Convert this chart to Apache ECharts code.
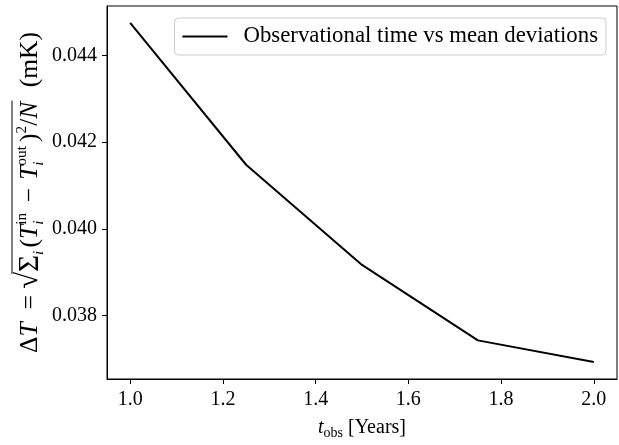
<!DOCTYPE html>
<html>
<head>
<meta charset="utf-8">
<script src="https://cdn.jsdelivr.net/npm/echarts@6/dist/echarts.min.js"></script>
<style>
  html, body { margin: 0; padding: 0; background: #fff; }
  #chart { width: 619px; height: 445px; }
</style>
</head>
<body>
<div id="chart"></div>
<script>
// observation time (years) vs mean deviation (mK)
const tObs = [1.0, 1.25, 1.5, 1.75, 2.0];
const deltaT = [0.04475, 0.04148, 0.03917, 0.03743, 0.03693];
const xTicks = [1.0, 1.2, 1.4, 1.6, 1.8, 2.0];
const yTicks = [0.038, 0.040, 0.042, 0.044];
const legendName = "Observational time vs mean deviations";

const SERIF = "Liberation Serif";
const FS = 20;

// matplotlib style 5% padding around the data
const xPad = (Math.max(...tObs) - Math.min(...tObs)) * 0.05;
const yPad = (Math.max(...deltaT) - Math.min(...deltaT)) * 0.05;

// y axis label built from text pieces (needs overline on the root)
const ctx = document.createElement("canvas").getContext("2d");
function textW(t, size, italic) {
  ctx.font = (italic ? "italic " : "") + size + "px '" + SERIF + "'";
  return ctx.measureText(t).width;
}
function yLabel() {
  const target = 321; // length of the label in the picture
  const L = 25.5;
  // [text, italic, size factor, dy, flag]  gap entries are plain numbers (weights)
  const parts = [
    ["Δ", 0, 1, 0], ["T", 1, 1, 0], 8, ["=", 0, 1, 0], 4,
    ["√", 0, 1.2, -1, "root"], ["Σ", 0, 1.15, 0], ["i", 1, 0.6, 8.5],
    2, ["(", 0, 1, 0], ["T", 1, 1, 0], ["in", 0, 0.6, -8.5, "noadv"], ["i", 1, 0.6, 8.5, "stack"],
    6, ["−", 0, 1, 0], 5, ["T", 1, 1, 0], ["out", 0, 0.6, -8.5, "noadv"], ["i", 1, 0.6, 8.5, "stack"],
    2, [")", 0, 1, 0], ["2", 0, 0.6, -8.5], ["/", 0, 1, 0], ["N", 1, 1, 0, "end"],
    9, ["(mK)", 0, 1, 0]
  ];
  function layout(g) {
    let x = 0, stackW = 0, rootEnd = 0, end = 0;
    const children = [];
    parts.forEach(p => {
      if (typeof p === "number") { x += p * g; return; }
      const [t, it, f, dy, flag] = p;
      const size = L * f;
      const wd = textW(t, size, it);
      children.push({
        type: "text", x: x, y: dy,
        style: { text: t, fontFamily: SERIF, fontSize: size, fontStyle: it ? "italic" : "normal",
                 fill: "#000", verticalAlign: "middle", align: "left" }
      });
      if (flag === "noadv") { stackW = wd; return; }
      x += flag === "stack" ? Math.max(wd, stackW) + 1 : wd;
      if (flag === "root") rootEnd = x;
      if (flag === "end") end = x;
    });
    return { x, children, rootEnd, end };
  }
  // stretch the gaps so the label is as long as in the picture
  const gapSum = parts.filter(p => typeof p === "number").reduce((a, b) => a + b, 0);
  const base = layout(0).x;
  const r = layout(Math.max(0.3, (target - base) / gapSum));
  r.children.push({
    type: "line",
    shape: { x1: r.rootEnd - 2, y1: -18, x2: r.end + 1, y2: -18 },
    style: { stroke: "#000", lineWidth: 1 }
  });
  return {
    type: "group", x: 30, y: 353, rotation: Math.PI / 2,
    children: r.children
  };
}

const chart = echarts.init(document.getElementById("chart"));
chart.setOption({
  animation: false,
  textStyle: { fontFamily: SERIF },
  grid: {
    left: 107, right: 2, top: 6, bottom: 57,
    show: true, borderColor: "#000", borderWidth: 1
  },
  legend: {
    right: 13, top: 18,
    data: [legendName],
    icon: "rect", itemWidth: 45, itemHeight: 2,
    padding: [7, 8, 7, 8],
    borderColor: "#ccc", borderWidth: 1, borderRadius: 4,
    backgroundColor: "rgba(255,255,255,0.8)",
    textStyle: { fontFamily: SERIF, fontSize: 22.8, color: "#000", padding: [0, 0, 0, 11], lineHeight: 21 }
  },
  xAxis: {
    type: "value",
    min: Math.min(...tObs) - xPad,
    max: Math.max(...tObs) + xPad,
    name: "{t|t}{s|obs} [Years]",
    nameLocation: "middle",
    nameGap: 37,
    nameTextStyle: {
      fontFamily: SERIF, fontSize: FS, color: "#000",
      rich: {
        t: { fontFamily: SERIF, fontSize: FS, fontStyle: "italic", lineHeight: 24, verticalAlign: "middle" },
        s: { fontFamily: SERIF, fontSize: 14, lineHeight: 13, verticalAlign: "bottom" }
      }
    },
    splitLine: { show: false },
    axisLine: { lineStyle: { color: "#000" } },
    axisTick: { customValues: xTicks, length: 5, inside: false, lineStyle: { color: "#000" } },
    axisLabel: {
      customValues: xTicks, margin: 11, color: "#000",
      fontFamily: SERIF, fontSize: FS,
      formatter: v => v.toFixed(1)
    }
  },
  yAxis: {
    type: "value",
    min: Math.min(...deltaT) - yPad,
    max: Math.max(...deltaT) + yPad,
    splitLine: { show: false },
    axisLine: { show: true, lineStyle: { color: "#000" } },
    axisTick: { show: true, customValues: yTicks, length: 5, lineStyle: { color: "#000" } },
    axisLabel: {
      customValues: yTicks, margin: 10, color: "#000",
      fontFamily: SERIF, fontSize: FS,
      formatter: v => v.toFixed(3)
    }
  },
  graphic: [yLabel()],
  series: [{
    name: legendName,
    type: "line",
    data: tObs.map((t, i) => [t, deltaT[i]]),
    showSymbol: false,
    symbol: "none",
    lineStyle: { color: "#000", width: 2 },
    itemStyle: { color: "#000" }
  }]
});
</script>
</body>
</html>
